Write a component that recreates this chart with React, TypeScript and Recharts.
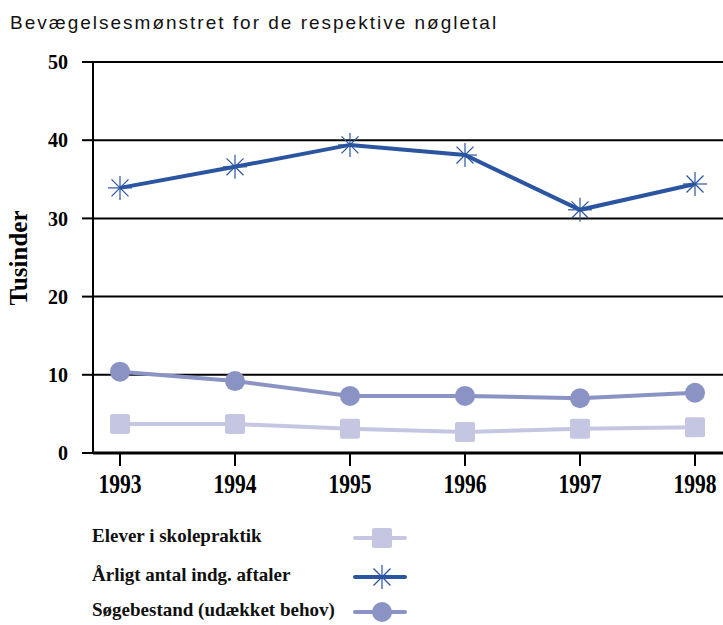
import { LineChart, Line, XAxis, YAxis, CartesianGrid } from 'recharts'

const YEARS = ['1993', '1994', '1995', '1996', '1997', '1998']
const SKOLEPRAKTIK = [3.7, 3.7, 3.1, 2.7, 3.1, 3.3]
const AFTALER = [33.9, 36.6, 39.4, 38.1, 31.1, 34.4]
const SOEGEBESTAND = [10.4, 9.2, 7.3, 7.3, 7.0, 7.7]
const Y_TICKS = [0, 10, 20, 30, 40, 50]

const SERIES = [
  { key: 'skole', name: 'Elever i skolepraktik', color: '#c5c7e2', marker: 'square' },
  { key: 'aftaler', name: 'Årligt antal indg. aftaler', color: '#2b55a0', marker: 'star' },
  { key: 'soege', name: 'Søgebestand (udækket behov)', color: '#8a93c4', marker: 'circle' },
]

const data = YEARS.map((year, i) => ({
  year,
  skole: SKOLEPRAKTIK[i],
  aftaler: AFTALER[i],
  soege: SOEGEBESTAND[i],
}))

const SERIF = '"Liberation Serif", "DejaVu Serif", serif'

function Marker({ cx, cy, type, color }: { cx: number; cy: number; type: string; color: string }) {
  if (type === 'square') {
    return <rect x={cx - 10} y={cy - 10} width={20} height={20} rx={2} fill={color} />
  }
  if (type === 'circle') {
    return <circle cx={cx} cy={cy} r={10} fill={color} />
  }
  const r = 12
  const spokes = [0, 45, 90, 135].map((a) => {
    const rad = (a * Math.PI) / 180
    const dx = Math.cos(rad) * r
    const dy = Math.sin(rad) * r
    return <line key={a} x1={cx - dx} y1={cy - dy} x2={cx + dx} y2={cy + dy} stroke={color} strokeWidth={1.2} />
  })
  return <g>{spokes}</g>
}

function YearTick({ x, y, payload }: any) {
  return (
    <g transform={`translate(${x},${y + 25})`}>
      <text transform="scale(0.8,1)" textAnchor="middle" fontFamily={SERIF} fontWeight="bold" fontSize={27} fill="#000">
        {payload.value}
      </text>
    </g>
  )
}

export default function App() {
  return (
    <div style={{ position: 'absolute', left: 0, top: 0, width: 723, height: 625, background: '#fff' }}>
      <div
        style={{
          position: 'absolute', left: 10, top: 12, fontFamily: '"Liberation Sans", Arial, sans-serif',
          fontSize: 19, letterSpacing: 2, color: '#111', whiteSpace: 'nowrap',
        }}
      >
        Bevægelsesmønstret for de respektive nøgletal
      </div>
      <LineChart width={723} height={625} data={data} margin={{ top: 62, right: 0, bottom: 132, left: 0 }}>
        <CartesianGrid vertical={false} stroke="#000" strokeWidth={2} />
        <XAxis
          dataKey="year"
          padding={{ left: 27, right: 28 }}
          height={40}
          tickSize={13}
          tickLine={{ stroke: '#000', strokeWidth: 2 }}
          axisLine={{ stroke: '#000', strokeWidth: 3 }}
          tick={<YearTick />}
        />
        <YAxis
          width={93}
          domain={[0, 50]}
          ticks={Y_TICKS}
          tickSize={11}
          tickMargin={14}
          tickLine={{ stroke: '#000', strokeWidth: 2 }}
          axisLine={{ stroke: '#000', strokeWidth: 2 }}
          tick={{ fontFamily: SERIF, fontWeight: 'bold', fontSize: 20, fill: '#000' }}
          label={{
            content: () => (
              <text
                x={18}
                y={258}
                transform="rotate(-90 18 258)"
                textAnchor="middle"
                dominantBaseline="central"
                fontFamily={SERIF}
                fontWeight="bold"
                fontSize={25}
                fill="#000"
              >
                Tusinder
              </text>
            ),
          }}
        />
        {SERIES.map((s) => (
          <Line
            key={s.key}
            dataKey={s.key}
            name={s.name}
            stroke={s.color}
            strokeWidth={4}
            isAnimationActive={false}
            dot={(p: any) => <Marker key={p.index} cx={p.cx} cy={p.cy} type={s.marker} color={s.color} />}
            activeDot={false}
          />
        ))}
      </LineChart>
      {SERIES.map((s, i) => {
        const top = [538, 577, 612][i]
        return (
          <div key={s.key} style={{ position: 'absolute', left: 0, top: top - 20, width: 723, height: 40 }}>
            <div
              style={{
                position: 'absolute', left: 92, top: 7, fontFamily: SERIF, fontWeight: 'bold',
                fontSize: 19, color: '#111', whiteSpace: 'nowrap',
              }}
            >
              {s.name}
            </div>
            <svg style={{ position: 'absolute', left: 350, top: 0 }} width={60} height={40}>
              <line x1={5} y1={20} x2={55} y2={20} stroke={s.color} strokeWidth={4} strokeLinecap="round" />
              <Marker cx={32} cy={20} type={s.marker} color={s.color} />
            </svg>
          </div>
        )
      })}
    </div>
  )
}
